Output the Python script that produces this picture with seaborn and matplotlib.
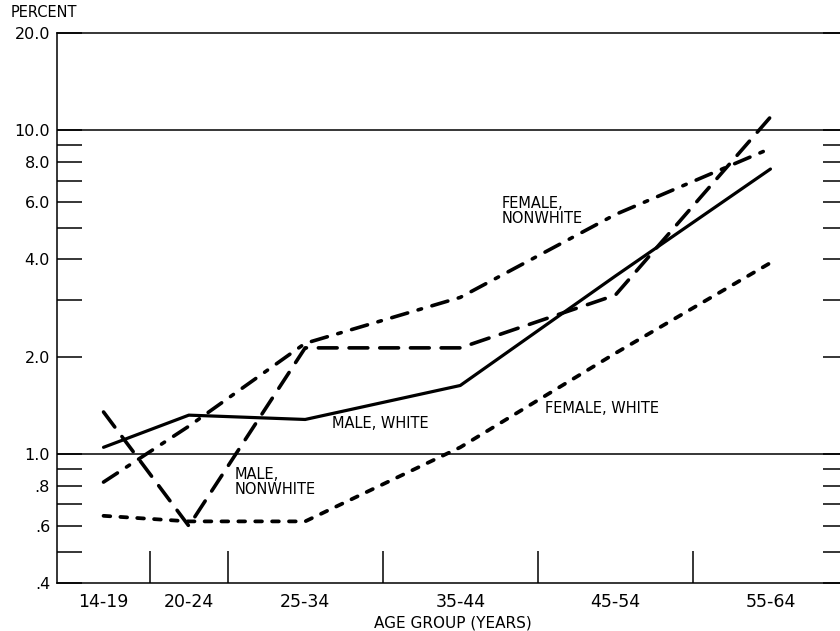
import matplotlib
matplotlib.use("Agg")
import matplotlib.pyplot as plt
from matplotlib.ticker import NullLocator, FixedLocator
import seaborn as sns
import pandas as pd

# ---- data ----
age_groups = ["14-19", "20-24", "25-34", "35-44", "45-54", "55-64"]
age_mid = [17, 22.5, 30, 40, 50, 60]
age_bounds = [20, 25, 35, 45, 55]

male_white = [1.05, 1.32, 1.28, 1.63, 3.55, 7.6]
male_nonwhite = [1.35, 0.60, 2.13, 2.13, 3.1, 11.0]
female_white = [0.645, 0.62, 0.62, 1.05, 2.05, 3.9]
female_nonwhite = [0.82, 1.22, 2.2, 3.05, 5.5, 8.8]

ytick_vals = [0.4, 0.5, 0.6, 0.7, 0.8, 0.9, 1, 2, 3, 4, 5, 6, 7, 8, 9, 10, 20]
ytick_text = [".4", "", ".6", "", ".8", "", "1.0", "2.0", "", "4.0", "", "6.0", "", "8.0", "", "10.0", "20.0"]

sns.set_style("white")
plt.rcParams["font.family"] = ["DejaVu Sans"]
plt.rcParams.update({"text.color": "black", "axes.labelcolor": "black",
                     "xtick.color": "black", "ytick.color": "black"})

fig = plt.figure(figsize=(8.4, 6.31), dpi=100)
ax = fig.add_axes([57 / 840, 48 / 631, (848 - 57) / 840, 550 / 631])

series = [
    (male_white, "-", 2.3),
    (male_nonwhite, (0, (5.2, 3.3)), 2.6),
    (female_white, (0, (1.8, 2.7)), 2.7),
    (female_nonwhite, (0, (4.6, 3.0, 1.0, 3.0)), 2.6),
]
for vals, ls, lw in series:
    df = pd.DataFrame({"age": age_mid, "pct": vals})
    sns.lineplot(data=df, x="age", y="pct", ax=ax, color="black",
                 linewidth=lw, linestyle=ls, dash_capstyle="round",
                 solid_capstyle="round", solid_joinstyle="round", zorder=3)

ax.set_yscale("log")
ax.set_xlim(14, 65)
ax.set_ylim(0.4, 20)

for v in (1, 10):
    ax.axhline(v, color="black", lw=1.1, zorder=2)

for side in ("left", "bottom", "top"):
    ax.spines[side].set_color("black")
    ax.spines[side].set_linewidth(1.1)
ax.spines["right"].set_visible(False)

# y ticks
ax.yaxis.set_major_locator(FixedLocator(ytick_vals))
ax.yaxis.set_minor_locator(NullLocator())
ax.set_yticklabels(ytick_text)
ax.tick_params(axis="y", which="major", direction="in", length=18, width=1.1,
               left=True, right=True, labelleft=True, labelright=False,
               labelsize=11.5, pad=5, color="black", labelcolor="black")

# x ticks: boundaries as marks, midpoints as labels
ax.set_xticks(age_bounds)
ax.set_xticklabels([""] * len(age_bounds))
ax.set_xticks(age_mid, minor=True)
ax.set_xticklabels(age_groups, minor=True)
ax.tick_params(axis="x", which="major", direction="in", length=23, width=1.1,
               color="black", bottom=True, top=False)
ax.tick_params(axis="x", which="minor", length=0, pad=7.5, labelsize=12.5,
               labelcolor="black")

ax.set_xlabel("AGE GROUP (YEARS)", fontsize=11, labelpad=3, color="black")
ax.set_ylabel("")

fig.text(44 / 840, 1 - 12.5 / 631, "PERCENT", fontsize=10.5, ha="center",
         va="center", color="black")

# series labels
lab = dict(fontsize=10.5, ha="left", va="center", color="black")
ax.text(31.74, 1.245, "MALE, WHITE", **lab)
ax.text(25.48, 0.823, "MALE,\nNONWHITE", linespacing=1.0, **lab)
ax.text(42.65, 5.64, "FEMALE,\nNONWHITE", linespacing=1.0, **lab)
ax.text(45.48, 1.384, "FEMALE, WHITE", **lab)

ax.grid(False)
fig.savefig("out.png", dpi=100)
